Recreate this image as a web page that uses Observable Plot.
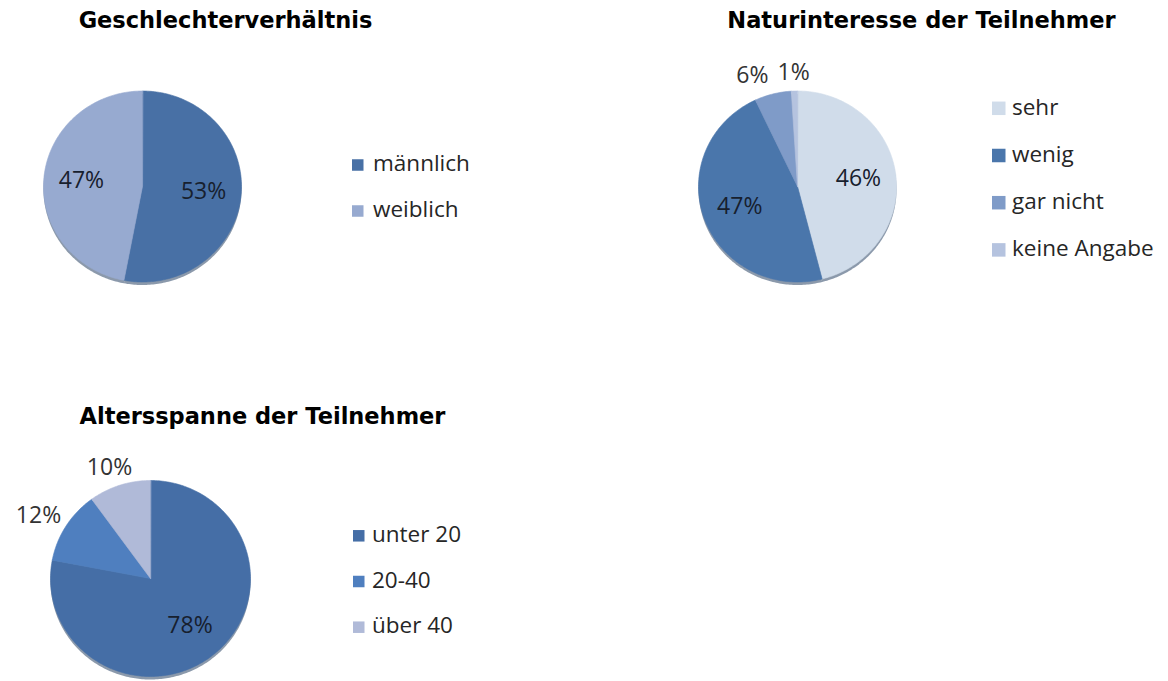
<!DOCTYPE html>
<html><head><meta charset="utf-8">
<script src="https://cdn.jsdelivr.net/npm/d3@7"></script>
<script src="https://cdn.jsdelivr.net/npm/@observablehq/plot@0.6"></script>
<style>
html,body{margin:0;padding:0;background:#fff;}
#chart{width:1168px;height:681px;overflow:hidden;}
</style>
</head><body><div id="chart"></div>
<script>
// ---- data ----
const genderTitle = "Geschlechterverhältnis";
const genderCategories = ["männlich", "weiblich"];
const genderValues = [53, 47];

const interestTitle = "Naturinteresse der Teilnehmer";
const interestCategories = ["sehr", "wenig", "gar nicht", "keine Angabe"];
const interestValues = [46, 47, 6, 1];

const ageTitle = "Altersspanne der Teilnehmer";
const ageCategories = ["unter 20", "20-40", "über 40"];
const ageValues = [78, 12, 10];

// ---- styles ----
const genderColors = ["#4870a5", "#97aad0"];
const interestColors = ["#d0dcea", "#4a76ab", "#7f9bc8", "#b5c3df"];
const ageColors = ["#456ea6", "#4f7fbf", "#b0bad8"];

// ---- layout ----
const W = 1168, H = 681;
const charts = [
  {title: genderTitle, cats: genderCategories, vals: genderValues, colors: genderColors,
   cx: 142, cy: 186, rx: 99, ry: 95.5, titleX: 225, titleY: 20,
   legendX: 352, legendY: 165, legendStep: 46, swatch: 11.5, textGap: 9},
  {title: interestTitle, cats: interestCategories, vals: interestValues, colors: interestColors,
   cx: 797, cy: 186, rx: 99, ry: 95.5, titleX: 921, titleY: 20,
   legendX: 992, legendY: 108.3, legendStep: 47.2, swatch: 13.5, textGap: 6},
  {title: ageTitle, cats: ageCategories, vals: ageValues, colors: ageColors,
   cx: 150, cy: 578, rx: 100, ry: 98, titleX: 262, titleY: 416.5,
   legendX: 353, legendY: 535.8, legendStep: 45.7, swatch: 11.5, textGap: 7}
];
const LABEL_FONT = 23, LEGEND_FONT = 22.5, TITLE_FONT = 22.5;
const innerFrac = 0.62, outerGap = 10, outsideBelow = 15;

const ctx = document.createElement("canvas").getContext("2d");
ctx.font = `${LABEL_FONT}px "Open Sans"`;

const sliceRows = [], legendRects = [], legendTexts = [], labelRows = [], titleRows = [];
charts.forEach((c, ci) => {
  const items = c.cats.map((k, i) => ({key: k, value: c.vals[i], color: c.colors[i]}));
  const arcs = d3.pie().sort(null).value(d => d.value)(items);
  const outs = [];
  arcs.forEach((a, i) => {
    const id = ci + "-" + a.data.key;
    sliceRows.push({id, color: a.data.color, x: c.cx, y: c.cy});
    const n = Math.max(2, Math.ceil((a.endAngle - a.startAngle) / (Math.PI / 180)));
    for (let j = 0; j <= n; ++j) {
      const t = a.startAngle + (a.endAngle - a.startAngle) * j / n;
      sliceRows.push({id, color: a.data.color, x: c.cx + c.rx * Math.sin(t), y: c.cy - c.ry * Math.cos(t)});
    }
    const m = (a.startAngle + a.endAngle) / 2;
    const dx = Math.sin(m), dy = -Math.cos(m);
    const text = a.data.value + "%";
    if (a.data.value >= outsideBelow) {
      labelRows.push({x: c.cx + dx * c.rx * innerFrac, y: c.cy + dy * c.ry * innerFrac, text, inside: true});
    } else {
      const w = ctx.measureText(text).width, h = 17;
      const lab = {x: c.cx + dx * (c.rx + outerGap) + dx * w / 2,
                   y: c.cy + dy * (c.ry + outerGap) + dy * h / 2, text, w, inside: false};
      outs.push(lab);
    }
    legendRects.push({x1: c.legendX, x2: c.legendX + c.swatch,
                      y1: c.legendY + i * c.legendStep - c.swatch / 2,
                      y2: c.legendY + i * c.legendStep + c.swatch / 2, color: a.data.color});
    legendTexts.push({x: c.legendX + c.swatch + c.textGap, y: c.legendY + i * c.legendStep - 1.5, text: a.data.key});
  });
  // resolve collisions between outside labels: push left one leftwards
  outs.sort((a, b) => a.x - b.x);
  for (let i = outs.length - 2; i >= 0; --i) {
    const A = outs[i], B = outs[i + 1];
    const need = (A.w + B.w) / 2 + 9;
    if (Math.abs(A.y - B.y) < 20 && B.x - A.x < need) A.x = B.x - need;
  }
  labelRows.push(...outs);
  titleRows.push({x: c.titleX, y: c.titleY, text: c.title});
});

const shadowRows = sliceRows;

const plot = Plot.plot({
  width: W, height: H,
  margin: 0, marginTop: 0, marginRight: 0, marginBottom: 0, marginLeft: 0,
  x: {type: "linear", domain: [0, W], range: [0, W], axis: null},
  y: {type: "linear", domain: [0, H], range: [0, H], axis: null},
  color: {type: "identity"},
  style: {background: "#fff"},
  marks: [
    Plot.line(shadowRows, {x: "x", y: "y", z: "id", curve: "linear-closed", fill: "#2c4566", fillOpacity: 0.55, stroke: "none", dy: 3}),
    Plot.line(sliceRows, {x: "x", y: "y", z: "id", curve: "linear-closed", fill: "color", stroke: "color", strokeWidth: 0.6}),
    Plot.text(labelRows, {x: "x", y: "y", text: "text", fontSize: LABEL_FONT, fontFamily: "Open Sans", fill: d => d.inside ? "#17202e" : "#333333", lineAnchor: "middle"}),
    Plot.rect(legendRects, {x1: "x1", x2: "x2", y1: "y1", y2: "y2", fill: "color"}),
    Plot.text(legendTexts, {x: "x", y: "y", text: "text", textAnchor: "start", fontSize: LEGEND_FONT, fontFamily: "Open Sans", fill: "#262626", lineAnchor: "middle"}),
    Plot.text(titleRows, {x: "x", y: "y", text: "text", fontSize: TITLE_FONT, fontFamily: "DejaVu Sans", fontWeight: "bold", fill: "#000", lineAnchor: "middle"})
  ]
});
document.getElementById("chart").appendChild(plot);
</script>
</body></html>
